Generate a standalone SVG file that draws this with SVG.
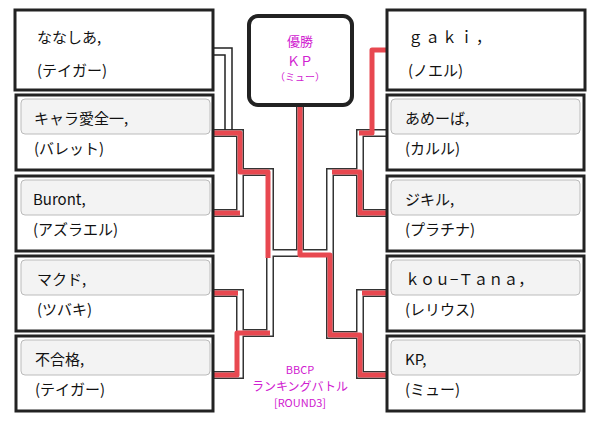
<svg xmlns="http://www.w3.org/2000/svg" width="600" height="426" viewBox="0 0 600 426">
<defs><style>
.box{fill:#fff;stroke:#222;stroke-width:3}
.sub{fill:#f3f3f3;stroke:#bbb;stroke-width:1}
.t{font-family:"Noto Sans CJK JP","Noto Sans",sans-serif;font-size:15px;fill:#111}
.m{font-family:"Noto Sans CJK JP","Noto Sans",sans-serif;fill:#d020d0;text-anchor:middle}
.o{fill:none;stroke:#333;stroke-width:8}
.i{fill:none;stroke:#fff;stroke-width:5}
.r{fill:none;stroke:#e84850;stroke-width:5;stroke-linejoin:round}
</style></defs>
<rect width="600" height="426" fill="#fff"/>
<g id="connectors">
<path class="o" d="M213,133H240V213H213M240,172H270V333H240M213,293H240V375H213M270,253H300V105M300,253H330V172H360V133H386M360,172V213H386M330,253V335H360V293H386M360,335V375H386"/>
<path class="i" d="M213,133H240V213H213M240,172H270V333H240M213,293H240V375H213M270,253H300V105M300,253H330V172H360V133H386M360,172V213H386M330,253V335H360V293H386M360,335V375H386"/>
<path fill="none" stroke="#222" stroke-width="1.5" d="M213,48H232V130M213,55H225V130"/>
<path class="r" d="M213,133H240V172H268V258"/>
<path class="r" d="M213,213H240"/>
<path class="r" d="M213,293H238"/>
<path class="r" d="M213,375H237V333H270"/>
<path class="r" d="M300,105V255H330V335H360V375H386"/>
<path class="r" d="M332,172H360V213H386"/>
<path class="r" d="M386,50H372V133H359"/>
<path class="r" d="M362,293H386"/>
</g>
<g id="champ"><rect x="249" y="16" width="103" height="89" rx="9" fill="#fff" stroke="#222" stroke-width="4"/>
<text class="m" x="300" y="46" font-size="13">優勝</text><text class="m" x="300" y="66" font-size="13">ＫＰ</text><text class="m" x="300" y="81" font-size="10">（ミュー）</text></g>
<g id="title"><text class="m" x="300" y="374" font-size="11">BBCP</text><text class="m" x="300" y="391" font-size="12">ランキングバトル</text><text class="m" x="300" y="407" font-size="11">[ROUND3]</text></g>
<g id="L1"><rect class="box" x="15" y="10" width="198" height="80"/><text class="t" x="37" y="43">ななしあ,</text><text class="t" x="37" y="76">(テイガー)</text></g>
<g id="L2"><rect class="box" x="16" y="95" width="197" height="75"/><rect class="sub" x="21" y="99" width="189" height="35" rx="4"/><text class="t" x="34" y="124">キャラ愛全一,</text><text class="t" x="34" y="154">(バレット)</text></g>
<g id="L3"><rect class="box" x="16" y="176" width="197" height="75"/><rect class="sub" x="21" y="180" width="189" height="35" rx="4"/><text class="t" x="33" y="205">Buront,</text><text class="t" x="33" y="235">(アズラエル)</text></g>
<g id="L4"><rect class="box" x="16" y="256" width="197" height="75"/><rect class="sub" x="21" y="260" width="189" height="35" rx="4"/><text class="t" x="37" y="285">マクド,</text><text class="t" x="37" y="315">(ツバキ)</text></g>
<g id="L5"><rect class="box" x="16" y="336" width="197" height="75"/><rect class="sub" x="21" y="340" width="189" height="35" rx="4"/><text class="t" x="35" y="365">不合格,</text><text class="t" x="35" y="395">(テイガー)</text></g>
<g id="R1"><rect class="box" x="387" y="10" width="198" height="80"/><text class="t" x="408" y="43" letter-spacing="2">ｇａｋｉ，</text><text class="t" x="408" y="76">(ノエル)</text></g>
<g id="R2"><rect class="box" x="387" y="95" width="197" height="75"/><rect class="sub" x="391" y="99" width="189" height="35" rx="4"/><text class="t" x="405" y="124">あめーば,</text><text class="t" x="405" y="154">(カルル)</text></g>
<g id="R3"><rect class="box" x="387" y="176" width="197" height="75"/><rect class="sub" x="391" y="180" width="189" height="35" rx="4"/><text class="t" x="405" y="205">ジキル,</text><text class="t" x="405" y="235">(プラチナ)</text></g>
<g id="R4"><rect class="box" x="387" y="256" width="197" height="75"/><rect class="sub" x="391" y="260" width="189" height="35" rx="4"/><text class="t" x="405" y="285">ｋｏｕ−Ｔａｎａ，</text><text class="t" x="405" y="315">(レリウス)</text></g>
<g id="R5"><rect class="box" x="387" y="336" width="197" height="75"/><rect class="sub" x="391" y="340" width="189" height="35" rx="4"/><text class="t" x="405" y="365">KP,</text><text class="t" x="405" y="395">(ミュー)</text></g>
</svg>
